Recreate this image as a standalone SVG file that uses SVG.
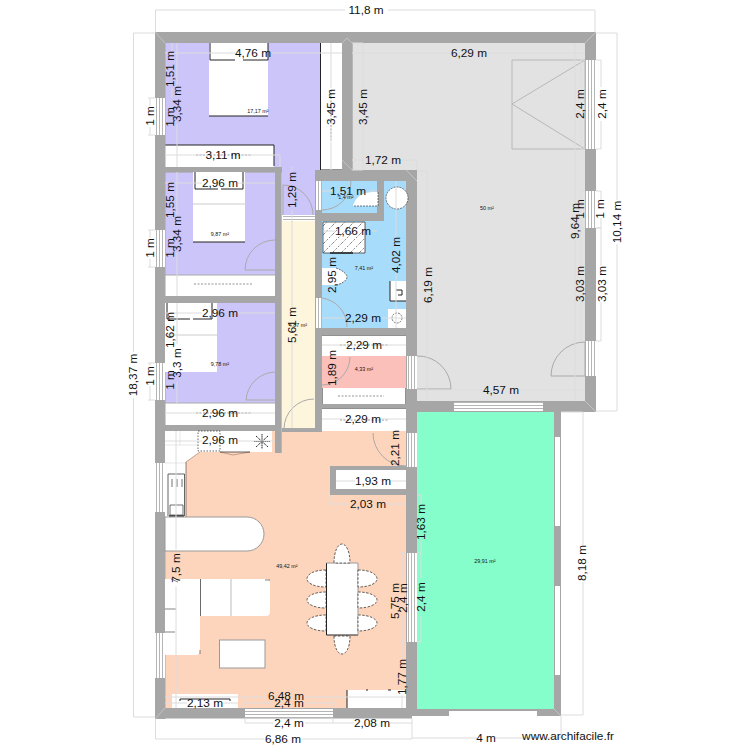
<svg xmlns="http://www.w3.org/2000/svg" width="750" height="750" viewBox="0 0 750 750">
<style>
.w{fill:#a6a6a6}
.f{fill:#fff}
.k{fill:none;stroke:#222;stroke-width:1}
.a{fill:none;stroke:#aaa;stroke-width:1}
.d{fill:none;stroke:#dcdcdc;stroke-width:1}
text{font-family:"Liberation Sans",Arial,sans-serif;fill:#111;text-anchor:middle;dominant-baseline:central}
.t{font-size:11.8px}
.s{font-size:5.4px;fill:#333}
</style>
<defs>
<pattern id="sv" patternUnits="userSpaceOnUse" width="3" height="10"><rect width="3" height="10" fill="#fff"/><rect width="1" height="10" fill="#b5b5b5"/></pattern>
<pattern id="sh" patternUnits="userSpaceOnUse" width="10" height="3"><rect width="10" height="3" fill="#fff"/><rect width="10" height="1" fill="#b5b5b5"/></pattern>
<pattern id="ha" patternUnits="userSpaceOnUse" width="9" height="9"><rect width="9" height="9" fill="#fff"/><path d="M0 9 9 0" stroke="#333" stroke-width=".6" stroke-dasharray="2 1.5"/></pattern>
</defs>
<rect width="750" height="750" fill="#fff"/>
<g id="rooms">
<path fill="#ccc5f9" d="M165 43H342V170H315V215H282V167H165Z"/>
<rect fill="#ccc5f9" x="165" y="172" width="110" height="124"/>
<rect fill="#ccc5f9" x="165" y="303" width="110" height="100"/>
<rect fill="#fdf5dc" x="282" y="221" width="33" height="207"/>
<rect fill="#a8dcfb" x="322" y="181" width="84" height="147"/>
<rect fill="#fcc0bb" x="322" y="356" width="84" height="32"/>
<path fill="#fdd5bd" d="M165 431H406V708H165Z"/>
<rect fill="#e2e2e2" x="352" y="43" width="233" height="127"/>
<rect fill="#e2e2e2" x="417" y="170" width="168" height="231"/>
<rect fill="#85fecb" x="417" y="412" width="137" height="297"/>
</g>
<g id="closets">
<rect class="f" x="320.5" y="43" width="21.5" height="127"/><path class="k" d="M320.5 43V170H342"/>
<rect class="f" x="165" y="145" width="109" height="22"/><path class="k" d="M165 145H274V166"/>
<rect class="f" x="163" y="275" width="112" height="21"/><path class="a" d="M163 275H275"/>
<rect class="f" x="163" y="403" width="112" height="22"/><path class="a" d="M163 403H275"/>
<rect class="f" x="322" y="335" width="84" height="21"/><path class="k" d="M322 335H406"/>
<rect class="f" x="322" y="388" width="84" height="16"/><path class="k" d="M322 388V404M406 388V404"/>
<rect class="f" x="322" y="408" width="84" height="23"/><path class="k" d="M322 408H406"/>
<rect class="f" x="336" y="470" width="70" height="19"/>
<path d="M196 155H252M331 90V140M194 284H252M196 413H252M340 345H388M338 396H384M340 420H388" fill="none" stroke="#777" stroke-width=".8" stroke-dasharray="2 1.5"/>
</g>
<g id="walls">
<rect class="w" x="155" y="32" width="441" height="11"/>
<rect class="w" x="155" y="32" width="10.5" height="687"/>
<rect class="w" x="155" y="708" width="257" height="10.5"/>
<rect class="w" x="412" y="709" width="149" height="7"/>
<rect class="w" x="585" y="32" width="11" height="380"/>
<rect class="w" x="406" y="401" width="190" height="11"/>
<rect class="w" x="554" y="412" width="7" height="304"/>
<rect class="w" x="406" y="170" width="11" height="546"/>
<rect class="w" x="342" y="43" width="10.7" height="127"/>
<rect class="w" x="315" y="170" width="102" height="11"/>
<rect class="w" x="275" y="167" width="6.7" height="286"/>
<rect class="w" x="155" y="167" width="127" height="5.6"/>
<rect class="w" x="155" y="296" width="121" height="7"/>
<rect class="w" x="155" y="425" width="120" height="6"/>
<rect class="w" x="282" y="428" width="40" height="4"/>
<rect class="w" x="315" y="170" width="7" height="262"/>
<rect class="w" x="315" y="213" width="69" height="8"/>
<rect class="w" x="377" y="181" width="7" height="40"/>
<rect class="w" x="322" y="328" width="84" height="7"/>
<rect class="w" x="322" y="404" width="84" height="4"/>
<rect class="w" x="330" y="466" width="76" height="4"/>
<rect class="w" x="330" y="466" width="6" height="29"/>
<rect class="w" x="330" y="489" width="76" height="6"/>
<path d="M155 32 165 43M596 32 585 43M596 412 585 401M155 719 165 708M352 170 342 160M561 716 554 709M417 181 406 170M342 43 347 38 352 43" fill="none" stroke="#d0d0d0" stroke-width=".7"/>
</g>
<g id="openings">
<g fill="url(#sv)">
<rect x="155" y="98" width="10" height="37"/>
<rect x="155" y="230" width="10" height="37"/>
<rect x="155" y="363" width="10" height="37"/>
<rect x="155" y="463" width="10" height="49"/>
<rect x="155" y="633" width="10" height="45"/>
<rect x="585" y="60" width="11" height="89"/>
<rect x="585" y="191" width="11" height="37"/>
<rect x="585" y="341" width="11" height="35"/>
<rect x="407" y="356" width="10" height="33"/>
<rect x="407" y="433" width="10" height="34"/>
<rect x="407" y="553" width="10" height="89"/>
<rect x="316" y="181" width="6" height="29"/>
<rect x="316" y="298" width="6" height="30"/>
</g>
<g fill="url(#sh)">
<rect x="283" y="215" width="32" height="6"/>
<rect x="245" y="709" width="88" height="9"/>
<rect x="454" y="402" width="89" height="9"/>
</g>
<g class="f">
<rect x="555" y="437" width="5" height="89"/>
<rect x="555" y="586" width="5" height="89"/>
<rect x="449" y="711" width="88" height="5"/>
</g>
<path class="a" d="M275 240A30 30 0 0 0 245 270H275M275 372A30 30 0 0 0 246 400H275M283 215V185A30 30 0 0 1 313 215M322 210A29 29 0 0 0 351 181M322 298A29 29 0 0 1 347 327M350 357A28 28 0 0 1 322 385M417 356A33 33 0 0 1 451 389H417M551 376A34 34 0 0 1 585 342V376H551M314 429H284A30 30 0 0 1 314 399M373 433A33 33 0 0 0 406 466"/>
<path d="M512 60H585V149H512ZM585 60 512 104 585 149" fill="none" stroke="#b8b8b8" stroke-width="1"/>
</g>
<g id="furniture">
<rect class="f" x="209" y="43" width="59" height="73"/><path class="k" d="M209 116H268M210 43V60H235M243 60H268V43"/>
<rect class="f" x="193" y="172" width="52" height="70"/><path class="k" d="M193 242H245M195 172V189H218M221 189H243V172"/><path d="M193 204H245" stroke="#ccc" fill="none"/>
<rect class="f" x="165" y="303" width="52" height="69"/><path class="k" d="M167 303V319H190M193 319H212V303"/><path d="M165 335H217" stroke="#ccc" fill="none"/>
<rect x="323" y="222" width="42" height="31" fill="url(#ha)"/><path d="M323 222H365V253H323Z" fill="none" stroke="#222" stroke-width=".7"/><path d="M330 253H353" stroke="#222" stroke-width="1.5"/>
<path class="f" d="M353 206C357 192 368 192 378 192V206Z"/><path d="M378 192V206H353" fill="none" stroke="#222" stroke-width=".6" stroke-dasharray="2 1"/>
<circle class="f" cx="397" cy="198" r="11"/><circle cx="397" cy="198" r="11" fill="none" stroke="#222" stroke-width=".6" stroke-dasharray="2 1"/>
<path class="f" d="M322 268H336C342 270 347 274 347 277 347 280 342 284 336 285H322Z"/><path d="M336 268C342 270 347 274 347 277 347 280 342 284 336 285" fill="none" stroke="#222" stroke-width=".6" stroke-dasharray="2 1"/>
<rect class="f" x="390" y="281" width="16" height="20"/><path class="k" d="M390 281V301H406M396 290H402V295H398"/>
<rect class="f" x="388" y="309" width="18" height="19"/><circle cx="397" cy="318" r="5" fill="none" stroke="#222" stroke-width=".6" stroke-dasharray="2 1"/>
<path class="f" d="M165 431H272V452H200L186 462V517H165Z"/>
<path d="M165 445H198M165 463H186M180 431V445" stroke="#ddd" stroke-width=".7" fill="none"/>
<path d="M186 462 200 452M220 452 233 455 250 452" fill="none" stroke="#b08f7a" stroke-width=".8"/>
<path d="M186 462V517" fill="none" stroke="#555" stroke-width=".7"/>
<rect x="198" y="431" width="22" height="20" fill="#fff" stroke="#222" stroke-width=".7" stroke-dasharray="1.5 1.5"/>
<path d="M220 452H250" fill="none" stroke="#222" stroke-width=".7"/>
<path d="M262 434V449M254 441.5H270M256 436 268 447M268 436 256 447" stroke="#222" stroke-width="1" stroke-dasharray="1.5 .6" fill="none"/>
<path d="M168 516V474H184.5V516" fill="none" stroke="#222" stroke-width=".7"/>
<path d="M169 516H184" stroke="#222" stroke-width="1.5"/>
<path d="M172 479V487M177 479V487M182 479V487M170 505H183V515H170Z" fill="none" stroke="#333" stroke-width=".7"/>
<path class="f" stroke="#999" d="M165 517H247A17 17 0 0 1 247 551H165Z"/>
<path class="f" d="M165 579H266Q270 579 270 583V612Q270 616 266 616H200V651Q200 655 196 655H165Z"/>
<path d="M200.500 579V616M231 579V616" fill="none" stroke="#aaa" stroke-width=".8"/>
<path d="M200.500 579V616M165 632H175M171 579 178 582M165 609H176M200 650V654M265 580H270" fill="none" stroke="#333" stroke-width=".6"/>
<rect class="f" x="219.5" y="640" width="45.5" height="28" stroke="#999"/>
<rect class="f" x="326.5" y="563" width="31.5" height="72"/><path class="k" d="M326.5 563V635H358"/><path d="M326.5 563H358V635" fill="none" stroke="#999"/>
<g class="f" stroke="#222" stroke-width=".7" stroke-dasharray="2.5 1.5">
<path d="M326 570C314 570 307 574 307 579 307 583 314 587 326 587Z"/>
<path d="M326 592C314 592 307 596 307 600 307 604 314 608 326 608Z"/>
<path d="M326 615C314 615 307 619 307 623 307 627 314 631 326 631Z"/>
<path d="M358 570C370 570 377 574 377 579 377 583 370 587 358 587Z"/>
<path d="M358 592C370 592 377 596 377 600 377 604 370 608 358 608Z"/>
<path d="M358 615C370 615 377 619 377 623 377 627 370 631 358 631Z"/>
<path d="M334 563C334 551 338 544 342 544 346 544 350 551 350 563Z"/>
<path d="M334 636C334 648 338 654 342 654 346 654 350 648 350 636Z"/>
</g>
<rect class="f" x="347" y="690" width="59" height="18"/><path class="k" d="M347 690V708M366 690H368M388 690H391"/>
<rect class="f" x="172" y="694" width="66" height="14"/><path class="k" d="M180 701V699H230V701"/>
</g>
<g id="dimensions">
<path class="d" d="M155.5 32V10H345M388 10H595V32"/>
<path class="d" d="M155 33H133.5V352M133.5 398V717H155"/>
<path class="d" d="M155.5 719V739H264M302 739H412V719"/>
<path class="d" d="M412 738H477M495 738H561V716"/>
<path class="d" d="M245 718V723H273M305 723H354M390 723H412M333 718V723"/>
<path class="d" d="M561 412H583V545M583 582V715H561"/>
<path class="d" d="M596 33H617V200M617 244V411H596"/>
<path class="d" d="M596 60H601V87M601 121V149H596M596 191H601V200M601 218V228H596M596 228H601V266M601 302V341H596"/>
<path class="d" d="M585 60H581M585 149H581M581 191H585M581 228H585M581 60V87M581 121V149M581 191V200M581 218V228M581 228V266M581 302V341"/>
<path class="d" d="M575 43V203M575 240V401"/>
<path class="d" d="M417 390H483M519 390H585"/>
<path class="d" d="M417 171H427V267M427 303V401"/>
<path class="d" d="M352 53H451M487 53H585"/>
<path class="d" d="M165 53H235M272 53H342"/>
<path class="d" d="M331 43V88M331 126V170"/>
<path class="d" d="M352 43H363V88M363 126V170H352"/>
<path class="d" d="M352 160H365M401 160H417V170"/>
<path class="d" d="M165 155H205M241 155H280V167"/>
<path class="d" d="M292 167V171M292 210V222"/>
<path class="d" d="M165 183H202M238 183H275"/>
<path class="d" d="M172 43V51M172 88V98M177 43V85M177 124V167M177 172V215M177 253V296M177 303V344M177 382V403"/>
<path class="d" d="M150 98V106M150 127V135M150 230V238M150 259V267M150 363V366M150 386V400M155 98H148M155 135H148M155 230H148M155 267H148M155 363H148M155 400H148"/>
<path class="d" d="M322 191H333M369 191H377"/>
<path class="d" d="M323 231H335M371 231H377"/>
<path class="d" d="M396 181V237M396 274V328"/>
<path class="d" d="M322 318H345M381 318H406"/>
<path class="d" d="M165 313H202M238 313H275"/>
<path class="d" d="M165 413H202M238 413H275"/>
<path class="d" d="M165 441H202M238 441H275"/>
<path class="d" d="M322 345H346M382 345H406"/>
<path class="d" d="M322 419H345M381 419H406"/>
<path class="d" d="M336 481H355M391 481H406"/>
<path class="d" d="M330 495V504H350M386 504H406"/>
<path class="d" d="M417 495H421V504M421 540V553M417 553H421V578M421 616V642H417"/>
<path class="d" d="M403 553V580M403 616V642M400 553H406M400 642H406"/>
<path class="d" d="M402 642V659M402 695V708"/>
<path class="d" d="M176 431V549M176 587V708"/>
<path class="d" d="M165 697H268M304 697H406"/>
<path class="d" d="M245 703H272M306 703H333M245 699V708M333 699V708"/>
<path class="d" d="M165 703H187M223 703H238"/>
<path class="d" d="M292 221V307M292 343V428"/>
</g>
<g id="labels">
<g class="t">
<text x="366" y="10">11,8 m</text>
<text x="253" y="52.5">4,76 m</text>
<text x="469" y="52.5">6,29 m</text>
<text x="223" y="155">3,11 m</text>
<text x="220" y="183">2,96 m</text>
<text x="383" y="160">1,72 m</text>
<text x="348" y="191">1,51 m</text>
<text x="353" y="231">1,66 m</text>
<text x="363" y="318">2,29 m</text>
<text x="220" y="313">2,96 m</text>
<text x="364" y="345">2,29 m</text>
<text x="220" y="413">2,96 m</text>
<text x="363" y="419">2,29 m</text>
<text x="220" y="440">2,96 m</text>
<text x="373" y="481">1,93 m</text>
<text x="368" y="504">2,03 m</text>
<text x="501" y="390">4,57 m</text>
<text x="286" y="696">6,48 m</text>
<text x="289" y="703">2,4 m</text>
<text x="205" y="703">2,13 m</text>
<text x="289" y="723">2,4 m</text>
<text x="372" y="723">2,08 m</text>
<text x="283" y="739">6,86 m</text>
<text x="486" y="738">4 m</text>
<text x="568" y="736">www.archifacile.fr</text>
<text transform="rotate(-90 133 375)" x="133" y="375">18,37 m</text>
<text transform="rotate(-90 170 69)" x="170" y="69">1,51 m</text>
<text transform="rotate(-90 177 104)" x="177" y="104">3,34 m</text>
<text transform="rotate(-90 150 116)" x="150" y="116">1 m</text>
<text transform="rotate(-90 170 117)" x="170" y="117">1 m</text>
<text transform="rotate(-90 331 107)" x="331" y="107">3,45 m</text>
<text transform="rotate(-90 363 107)" x="363" y="107">3,45 m</text>
<text transform="rotate(-90 292 190)" x="292" y="190">1,29 m</text>
<text transform="rotate(-90 170 200)" x="170" y="200">1,55 m</text>
<text transform="rotate(-90 177 234)" x="177" y="234">3,34 m</text>
<text transform="rotate(-90 150 248)" x="150" y="248">1 m</text>
<text transform="rotate(-90 170 248)" x="170" y="248">1 m</text>
<text transform="rotate(-90 170 330)" x="170" y="330">1,62 m</text>
<text transform="rotate(-90 177 363)" x="177" y="363">3,3 m</text>
<text transform="rotate(-90 150 376)" x="150" y="376">1 m</text>
<text transform="rotate(-90 170 380)" x="170" y="380">1 m</text>
<text transform="rotate(-90 292 325)" x="292" y="325">5,61 m</text>
<text transform="rotate(-90 396 255)" x="396" y="255">4,02 m</text>
<text transform="rotate(-90 332 275)" x="332" y="275">2,95 m</text>
<text transform="rotate(-90 332 368)" x="332" y="368">1,89 m</text>
<text transform="rotate(-90 428 285)" x="428" y="285">6,19 m</text>
<text transform="rotate(-90 395 448)" x="395" y="448">2,21 m</text>
<text transform="rotate(-90 176 568)" x="176" y="568">7,5 m</text>
<text transform="rotate(-90 395 601)" x="395" y="601">5,75 m</text>
<text transform="rotate(-90 403 598)" x="403" y="598">2,4 m</text>
<text transform="rotate(-90 402 677)" x="402" y="677">1,77 m</text>
<text transform="rotate(-90 421 522)" x="421" y="522">1,63 m</text>
<text transform="rotate(-90 421 597)" x="421" y="597">2,4 m</text>
<text transform="rotate(-90 580 104)" x="580" y="104">2,4 m</text>
<text transform="rotate(-90 602 104)" x="602" y="104">2,4 m</text>
<text transform="rotate(-90 580 209)" x="580" y="209">1 m</text>
<text transform="rotate(-90 600 209)" x="600" y="209">1 m</text>
<text transform="rotate(-90 575 221)" x="575" y="221">9,64 m</text>
<text transform="rotate(-90 580 284)" x="580" y="284">3,03 m</text>
<text transform="rotate(-90 602 284)" x="602" y="284">3,03 m</text>
<text transform="rotate(-90 617 222)" x="617" y="222">10,14 m</text>
<text transform="rotate(-90 582 563)" x="582" y="563">8,18 m</text>
</g>
<g class="s">
<text x="258" y="111">17,17 m²</text>
<text x="220" y="234">9,87 m²</text>
<text x="220" y="364">9,78 m²</text>
<text x="346" y="197">1,4 m²</text>
<text x="364" y="268">7,41 m²</text>
<text x="298" y="325">4,87 m²</text>
<text x="364" y="369">4,33 m²</text>
<text x="287" y="566">49,42 m²</text>
<text x="485" y="561">29,91 m²</text>
<text x="487" y="208">50 m²</text>
</g>
</g>
</svg>
